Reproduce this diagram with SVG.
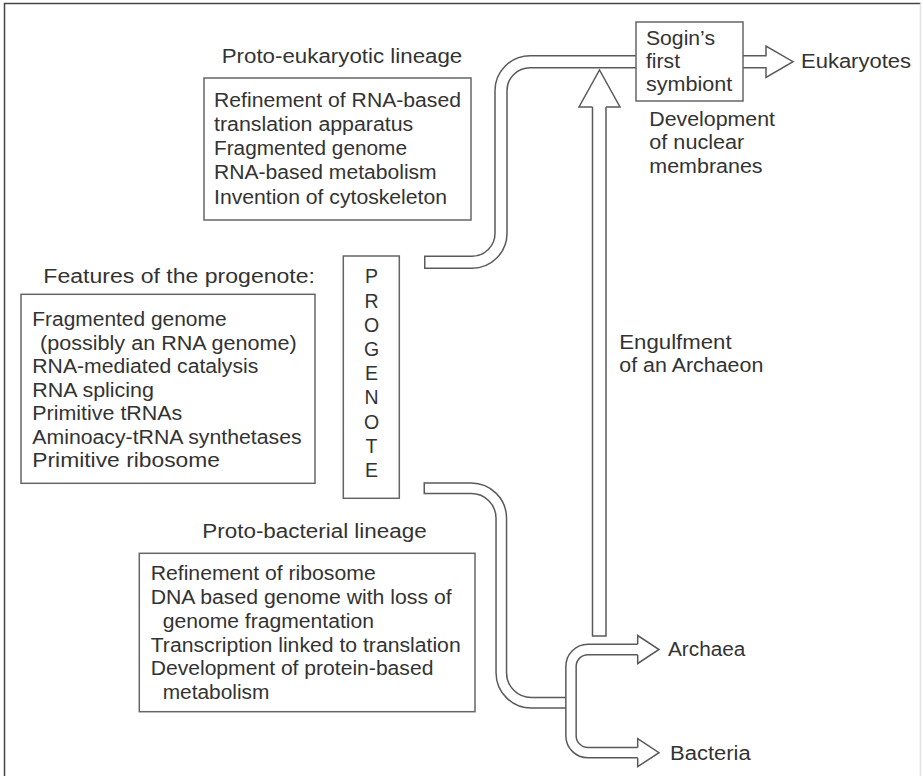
<svg xmlns="http://www.w3.org/2000/svg" width="923" height="777" viewBox="0 0 923 777">
<style>
text{font-family:"Liberation Sans",Arial,Helvetica,sans-serif;font-size:19.5px;fill:#333;}
.t{font-size:20px;}
.box{fill:#fff;stroke:#666;stroke-width:1.5;}
.tubeD{fill:none;stroke:#5a5a5a;}
.tubeW{fill:none;stroke:#fff;}
.ol{fill:#fff;stroke:#5a5a5a;stroke-width:1.5;stroke-linejoin:miter;}
</style>
<rect width="923" height="777" fill="#fff"/>
<path d="M4.5 776 V3.5 H920.5" fill="none" stroke="#444" stroke-width="1.5"/>
<path d="M920.5 3.5 V776" fill="none" stroke="#e4e4e4" stroke-width="1.5"/>

<g id="connectors">
  <!-- top tube: progenote to Sogin's box -->
  <path class="tubeD" stroke-width="13.5" d="M424 262.3 H472 A29 29 0 0 0 501 233.3 V90.7 A29 29 0 0 1 530 61.7 H637"/>
  <path class="tubeW" stroke-width="10.5" d="M425.5 262.3 H472 A29 29 0 0 0 501 233.3 V90.7 A29 29 0 0 1 530 61.7 H637"/>
  <!-- bottom tube: progenote to fork -->
  <path class="tubeD" stroke-width="12" d="M423.5 488.3 H471.3 A30 30 0 0 1 501.3 518.3 V672.7 A30 30 0 0 0 531.3 702.7 H567"/>
  <path class="tubeW" stroke-width="9" d="M425 488.3 H471.3 A30 30 0 0 1 501.3 518.3 V672.7 A30 30 0 0 0 531.3 702.7 H567"/>
  <!-- fork to Archaea / Bacteria -->
  <path class="tubeD" stroke-width="11.8" d="M638 649.5 H588 A17 17 0 0 0 571 666.5 V735.7 A17 17 0 0 0 588 752.7 H638"/>
  <path class="tubeW" stroke-width="8.8" d="M638.5 649.5 H588 A17 17 0 0 0 571 666.5 V735.7 A17 17 0 0 0 588 752.7 H638.5"/>
  <path class="ol" d="M637.7 644 V635.5 L659 649.5 L637.7 663.5 V655"/>
  <path class="ol" d="M637.7 747.5 V738.7 L659 752.7 L637.7 766.7 V757.9"/>
  <!-- engulfment arrow -->
  <path class="ol" d="M592.5 106 V636 H606 V106"/>
  <path class="ol" d="M592.5 107 H579 L599.5 70 L620 107 H606"/>
  <!-- eukaryotes arrow -->
  <path class="ol" d="M743 55.7 H766 V46 L793 61.7 L766 77.4 V67.7 H743"/>
</g>

<g id="proto-eukaryotic">
  <text class="t" x="221.7" y="63.3" textLength="240.6" lengthAdjust="spacingAndGlyphs">Proto-eukaryotic lineage</text>
  <rect class="box" x="204" y="78" width="267" height="142"/>
  <text x="214" y="106.7" textLength="247" lengthAdjust="spacingAndGlyphs">Refinement of RNA-based</text>
  <text x="214" y="130.9" textLength="199.3" lengthAdjust="spacingAndGlyphs">translation apparatus</text>
  <text x="214" y="155.1" textLength="193" lengthAdjust="spacingAndGlyphs">Fragmented genome</text>
  <text x="214" y="179.3" textLength="222.7" lengthAdjust="spacingAndGlyphs">RNA-based metabolism</text>
  <text x="214" y="203.5" textLength="233" lengthAdjust="spacingAndGlyphs">Invention of cytoskeleton</text>
</g>

<g id="features">
  <text class="t" x="43.3" y="283.3" textLength="271.7" lengthAdjust="spacingAndGlyphs">Features of the progenote:</text>
  <rect class="box" x="21" y="294.3" width="294" height="189"/>
  <text x="32.3" y="326" textLength="194.3" lengthAdjust="spacingAndGlyphs">Fragmented genome</text>
  <text x="40" y="349.5" textLength="256.7" lengthAdjust="spacingAndGlyphs">(possibly an RNA genome)</text>
  <text x="32.3" y="373" textLength="226" lengthAdjust="spacingAndGlyphs">RNA-mediated catalysis</text>
  <text x="32.3" y="396.5" textLength="121.7" lengthAdjust="spacingAndGlyphs">RNA splicing</text>
  <text x="32.3" y="420" textLength="150" lengthAdjust="spacingAndGlyphs">Primitive tRNAs</text>
  <text x="32.3" y="443.5" textLength="269.3" lengthAdjust="spacingAndGlyphs">Aminoacy-tRNA synthetases</text>
  <text x="32.3" y="467" textLength="187.7" lengthAdjust="spacingAndGlyphs">Primitive ribosome</text>
</g>

<g id="progenote">
  <rect class="box" x="343.3" y="256" width="56" height="242.3"/>
  <text x="371.5" y="283.3" text-anchor="middle">P</text>
  <text x="371.5" y="307.5" text-anchor="middle">R</text>
  <text x="371.5" y="331.7" text-anchor="middle">O</text>
  <text x="371.5" y="355.9" text-anchor="middle">G</text>
  <text x="371.5" y="380.1" text-anchor="middle">E</text>
  <text x="371.5" y="404.3" text-anchor="middle">N</text>
  <text x="371.5" y="428.5" text-anchor="middle">O</text>
  <text x="371.5" y="452.7" text-anchor="middle">T</text>
  <text x="371.5" y="476.9" text-anchor="middle">E</text>
</g>

<g id="proto-bacterial">
  <text class="t" x="202.3" y="538.3" textLength="224.4" lengthAdjust="spacingAndGlyphs">Proto-bacterial lineage</text>
  <rect class="box" x="139.3" y="553.3" width="335.7" height="158.4"/>
  <text x="150.7" y="580" textLength="225" lengthAdjust="spacingAndGlyphs">Refinement of ribosome</text>
  <text x="150.7" y="604" textLength="301" lengthAdjust="spacingAndGlyphs">DNA based genome with loss of</text>
  <text x="162.7" y="627.5" textLength="211.3" lengthAdjust="spacingAndGlyphs">genome fragmentation</text>
  <text x="150.7" y="651.5" textLength="310" lengthAdjust="spacingAndGlyphs">Transcription linked to translation</text>
  <text x="150.7" y="675" textLength="282.7" lengthAdjust="spacingAndGlyphs">Development of protein-based</text>
  <text x="162.7" y="698.5" textLength="106.7" lengthAdjust="spacingAndGlyphs">metabolism</text>
</g>

<g id="sogin">
  <rect class="box" x="636" y="22" width="107" height="79"/>
  <text x="646" y="44.5" textLength="69" lengthAdjust="spacingAndGlyphs">Sogin’s</text>
  <text x="646" y="68" textLength="34" lengthAdjust="spacingAndGlyphs">first</text>
  <text x="646" y="91" textLength="86.3" lengthAdjust="spacingAndGlyphs">symbiont</text>
  <text x="649.3" y="126" textLength="125.7" lengthAdjust="spacingAndGlyphs">Development</text>
  <text x="649.3" y="149.3" textLength="95" lengthAdjust="spacingAndGlyphs">of nuclear</text>
  <text x="649.3" y="172.7" textLength="113.3" lengthAdjust="spacingAndGlyphs">membranes</text>
</g>

<g id="eukaryotes">
  <text x="801" y="68.3" textLength="110" lengthAdjust="spacingAndGlyphs">Eukaryotes</text>
</g>

<g id="engulfment">
  <text x="619.3" y="349" textLength="112.3" lengthAdjust="spacingAndGlyphs">Engulfment</text>
  <text x="619.3" y="372.3" textLength="144" lengthAdjust="spacingAndGlyphs">of an Archaeon</text>
</g>

<g id="archaea">
  <text x="668" y="656" textLength="77.3" lengthAdjust="spacingAndGlyphs">Archaea</text>
</g>

<g id="bacteria">
  <text x="670" y="760" textLength="80.7" lengthAdjust="spacingAndGlyphs">Bacteria</text>
</g>
</svg>
